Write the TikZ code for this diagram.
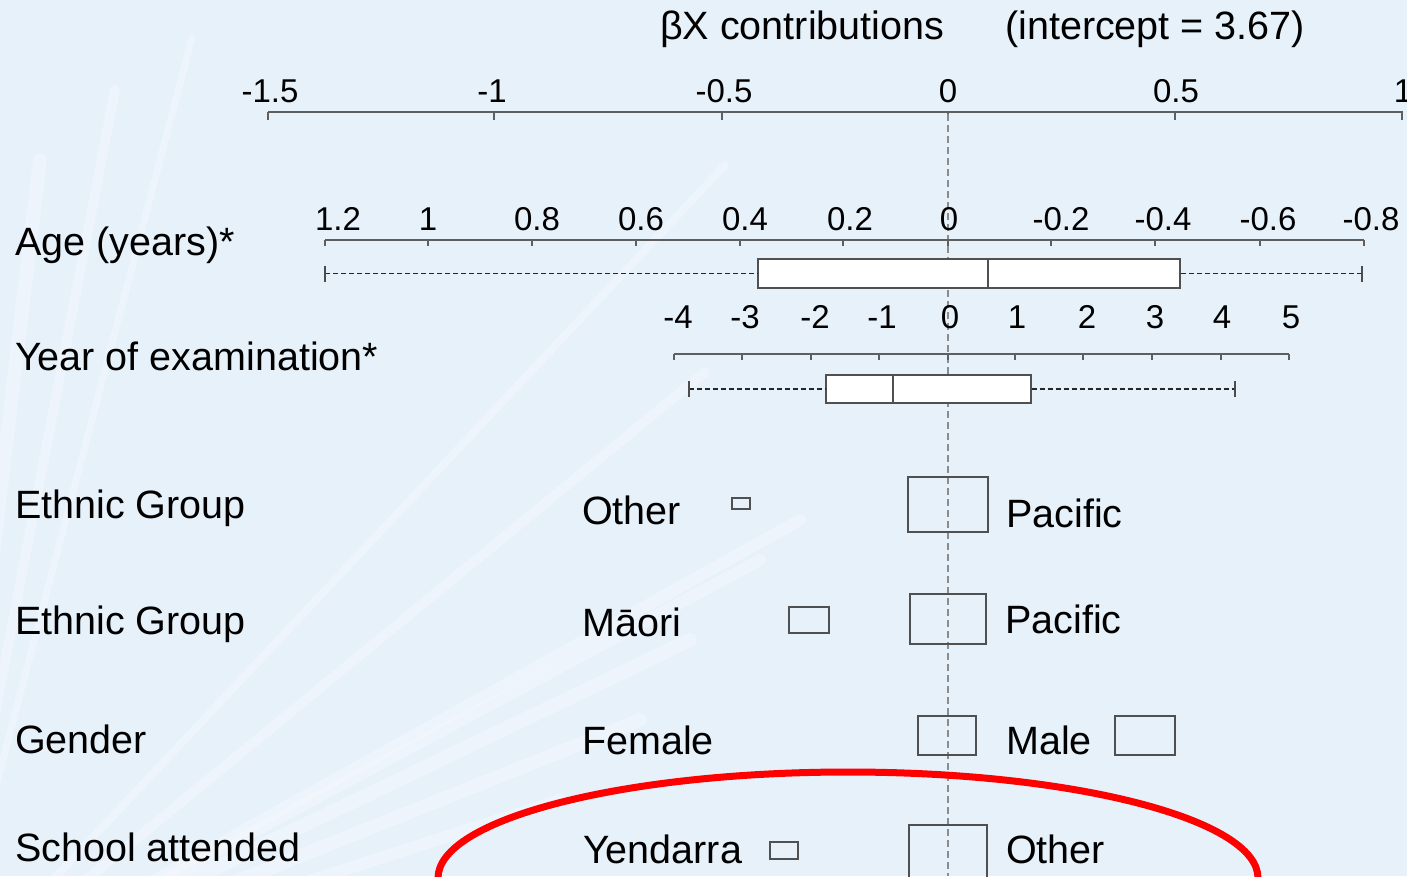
\documentclass[tikz,border=0pt]{standalone}
\usepackage{fontspec}
\setmainfont{Liberation Sans}
\usetikzlibrary{positioning}

\definecolor{bgblue}{RGB}{231,241,250}
\definecolor{axgray}{RGB}{95,95,95}
\definecolor{boxgray}{RGB}{80,80,80}

\begin{document}
\begin{tikzpicture}[x=1pt,y=-1pt,
  lab/.style={anchor=base west,inner sep=0pt,font=\fontsize{39.5}{44}\selectfont},
  num/.style={anchor=base,inner sep=0pt,font=\fontsize{33}{38}\selectfont},
  axis/.style={draw=axgray,line width=2pt},
  tick/.style={draw=axgray,line width=1.5pt},
  zero/.style={draw=black!45,line width=1.5pt,dash pattern=on 7pt off 4pt},
  wbox/.style={draw=boxgray,fill=white,line width=1.8pt,inner sep=0pt},
  cbox/.style={draw=boxgray,line width=1.8pt,inner sep=0pt},
  whisk/.style={draw=black!85,line width=1.5pt,dash pattern=on 5pt off 3pt},
  whcap/.style={draw=black!70,line width=1.5pt},
  streak/.style={draw=white,opacity=.25,line cap=round},
  ring/.style={draw=red,line width=7pt}]
\useasboundingbox (0,0) rectangle (1407,876);
\clip (0,0) rectangle (1407,876);
\fill[bgblue] (0,0) rectangle (1407,876);

% background fan
\coordinate (fan) at (-60,1000);
\draw[streak,line width=14pt] (fan) -- (40,160);
\draw[streak,line width=10pt] (fan) -- (115,90);
\draw[streak,line width=7pt] (fan) -- (192,38);
\draw[streak,line width=8pt] (fan) -- (725,165);
\draw[streak,line width=10pt] (fan) -- (705,372);
\draw[streak,line width=12pt] (fan) -- (800,520);
\draw[streak,line width=12pt] (fan) -- (760,560);
\draw[streak,line width=14pt] (fan) -- (690,640);
\draw[streak,line width=14pt] (fan) -- (640,720);
\draw[streak,line width=12pt] (fan) -- (560,800);

% titles
\node[lab] (bx) at (660,39) {βX contributions};
\node[lab] (icpt) at (1005,39) {(intercept = 3.67)};

% beta axis
\coordinate (b0) at (268,112);
\coordinate (b1) at (1403,112);
\draw[axis] (b0) -- (b1);
\draw[tick] (268,112) -- ++(0,8) (494,112) -- ++(0,8) (722,112) -- ++(0,8)
  (948,112) -- ++(0,8) (1175,112) -- ++(0,8) (1402,112) -- ++(0,8);
\node[num] (bm15) at (270,102) {-1.5};
\node[num] (bm1) at (492,102) {-1};
\node[num] (bm05) at (724,102) {-0.5};
\node[num] (b00) at (948,102) {0};
\node[num] (b05) at (1176,102) {0.5};
\node[num] (b10) at (1403,102) {1};

% zero line
\coordinate (z0) at (948,114);
\coordinate (z1) at (948,876);
\draw[zero] (z0) -- (z1);

% age
\node[lab] (age) at (15,255) {Age (years)*};
\coordinate (a0) at (325,240);
\coordinate (a1) at (1364,240);
\draw[axis] (a0) -- (a1);
\draw[tick] (325,240) -- ++(0,6) (428,240) -- ++(0,6) (532,240) -- ++(0,6)
  (636,240) -- ++(0,6) (740,240) -- ++(0,6) (843,240) -- ++(0,6)
  (948,240) -- ++(0,6) (1051,240) -- ++(0,6) (1155,240) -- ++(0,6)
  (1260,240) -- ++(0,6) (1364,240) -- ++(0,6);
\node[num] (a12) at (338,230) {1.2};
\node[num] (a10) at (428,230) {1};
\node[num] (a08) at (537,230) {0.8};
\node[num] (a06) at (641,230) {0.6};
\node[num] (a04) at (745,230) {0.4};
\node[num] (a02) at (850,230) {0.2};
\node[num] (a00) at (949,230) {0};
\node[num] (am02) at (1061,230) {-0.2};
\node[num] (am04) at (1163,230) {-0.4};
\node[num] (am06) at (1268,230) {-0.6};
\node[num] (am08) at (1371,230) {-0.8};
\node[wbox,minimum width=422,minimum height=29] (agebox) at (969,273.5) {};
\coordinate (agem) at (988,273.5);
\draw[wbox] (agem |- agebox.north) -- (agem |- agebox.south);
\coordinate (agelo) at (325,273.5);
\coordinate (agehi) at (1362,273.5);
\draw[whisk] (agelo) -- (agebox.west);
\draw[whisk] (agebox.east) -- (agehi);
\draw[whcap] (agelo) ++(0,-8) -- ++(0,16);
\draw[whcap] (agehi) ++(0,-8) -- ++(0,16);

% year of examination
\node[lab] (year) at (15,370) {Year of examination*};
\coordinate (y0) at (674,354);
\coordinate (y1) at (1289,354);
\draw[axis] (y0) -- (y1);
\draw[tick] (674,354) -- ++(0,6) (742,354) -- ++(0,6) (811,354) -- ++(0,6)
  (879,354) -- ++(0,6) (948,354) -- ++(0,6) (1015,354) -- ++(0,6)
  (1083,354) -- ++(0,6) (1152,354) -- ++(0,6) (1221,354) -- ++(0,6)
  (1289,354) -- ++(0,6);
\node[num] (ym4) at (678,328) {-4};
\node[num] (ym3) at (745,328) {-3};
\node[num] (ym2) at (815,328) {-2};
\node[num] (ym1) at (882,328) {-1};
\node[num] (y00) at (950,328) {0};
\node[num] (y01) at (1017,328) {1};
\node[num] (y02) at (1087,328) {2};
\node[num] (y03) at (1155,328) {3};
\node[num] (y04) at (1222,328) {4};
\node[num] (y05) at (1291,328) {5};
\node[wbox,minimum width=205,minimum height=28] (yearbox) at (928.5,389) {};
\coordinate (yearm) at (893,389);
\draw[wbox] (yearm |- yearbox.north) -- (yearm |- yearbox.south);
\coordinate (yearlo) at (689,389);
\coordinate (yearhi) at (1235,389);
\draw[whisk] (yearlo) -- (yearbox.west);
\draw[whisk] (yearbox.east) -- (yearhi);
\draw[whcap] (yearlo) ++(0,-8) -- ++(0,16);
\draw[whcap] (yearhi) ++(0,-8) -- ++(0,16);

% ethnic group 1
\node[lab] (eth1) at (15,518) {Ethnic Group};
\node[lab] (oth1) at (582,524) {Other};
\node[cbox,minimum width=18,minimum height=11] (oth1box) at (741,503.5) {};
\node[cbox,minimum width=80,minimum height=55] (pac1box) at (948,504.5) {};
\node[lab] (pac1) at (1006,527) {Pacific};

% ethnic group 2
\node[lab] (eth2) at (15,634) {Ethnic Group};
\node[lab] (mao) at (582,636) {Māori};
\node[cbox,minimum width=40,minimum height=26] (maobox) at (809,620) {};
\node[cbox,minimum width=76,minimum height=50] (pac2box) at (948,619) {};
\node[lab] (pac2) at (1005,633) {Pacific};

% gender
\node[lab] (gen) at (15,753) {Gender};
\node[lab] (fem) at (582,754) {Female};
\node[cbox,minimum width=58,minimum height=39] (fembox) at (947,735.5) {};
\node[lab] (male) at (1006,754) {Male};
\node[cbox,minimum width=60,minimum height=39] (malebox) at (1145,735.5) {};

% school attended
\node[lab] (sch) at (15,861) {School attended};
\node[lab] (yen) at (583,863) {Yendarra};
\node[cbox,minimum width=28,minimum height=17] (yenbox) at (784,850.5) {};
\node[cbox,minimum width=78,minimum height=80] (oth2box) at (948,865) {};
\node[lab] (oth2) at (1006,863) {Other};

% highlight
\draw[ring] (848,878) ellipse [x radius=410pt, y radius=106pt];
\end{tikzpicture}
\end{document}
